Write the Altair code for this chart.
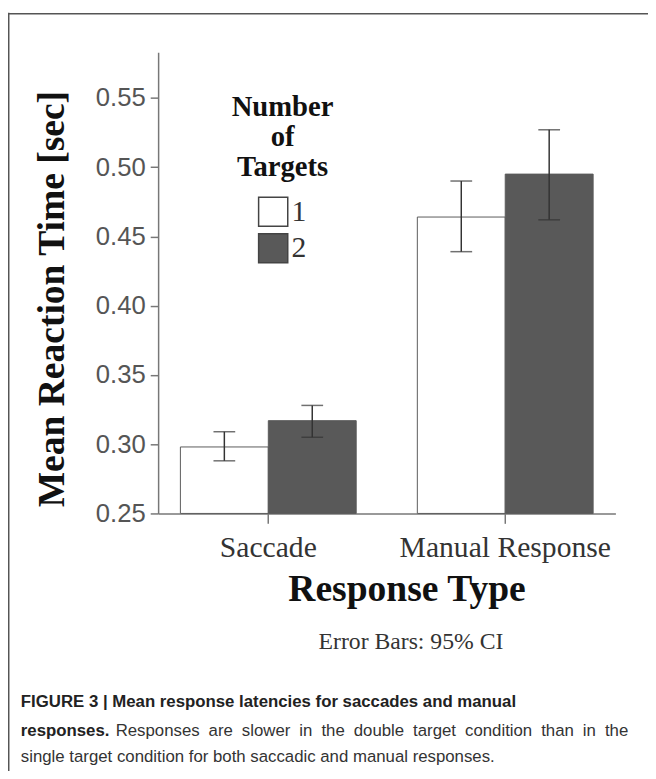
import altair as alt
import pandas as pd

# ---- data ----
categories = ["Saccade", "Manual Response"]
targets = ["1", "2"]
saccade_mean = [0.298, 0.317]
saccade_lo = [0.288, 0.305]
saccade_hi = [0.309, 0.328]
manual_mean = [0.464, 0.495]
manual_lo = [0.439, 0.462]
manual_hi = [0.490, 0.527]
y_ticks = [0.25, 0.30, 0.35, 0.40, 0.45, 0.50, 0.55]

caption_line1 = "FIGURE 3 | Mean response latencies for saccades and manual"
caption_line2_bold = "responses."
caption_line2 = "Responses are slower in the double target condition than in the"
caption_line3 = "single target condition for both saccadic and manual responses."

rows = []
for t, m, lo, hi in zip(targets, saccade_mean, saccade_lo, saccade_hi):
    rows.append({"type": "Saccade", "targets": t, "mean": m, "lo": lo, "hi": hi})
for t, m, lo, hi in zip(targets, manual_mean, manual_lo, manual_hi):
    rows.append({"type": "Manual Response", "targets": t, "mean": m, "lo": lo, "hi": hi})
df = pd.DataFrame(rows)

SERIF = "Liberation Serif"
SANS = "Liberation Sans"

x_enc = alt.X(
    "type:N",
    sort=categories,
    scale=alt.Scale(paddingInner=0.258, paddingOuter=0.094),
    axis=alt.Axis(
        title=None, labelAngle=0, labelFont=SERIF, labelFontSize=30,
        labelColor="#333", labelPadding=10, labelLimit=0,
        tickSize=10, tickColor="#777",
        tickWidth=1.5, domainColor="#777", domainWidth=1.5,
    ),
)
xo_enc = alt.XOffset("targets:N", sort=targets,
                     scale=alt.Scale(paddingInner=0, paddingOuter=0))
y_scale = alt.Scale(domain=[0.25, 0.583], nice=False, zero=False)
y_axis = alt.Axis(
    title=None, values=y_ticks, format=".2f", labelFont=SANS, labelFontSize=26,
    labelColor="#555", labelPadding=5, tickSize=8, tickColor="#777",
    tickWidth=1.5, domainColor="#777", domainWidth=1.5, grid=False,
)

bars = alt.Chart(df).mark_bar(stroke="#5a5a5a", strokeWidth=1).encode(
    x=x_enc,
    xOffset=xo_enc,
    y=alt.Y("mean:Q", scale=y_scale, axis=y_axis),
    y2=alt.datum(0.25),
    color=alt.Color(
        "targets:N",
        scale=alt.Scale(domain=targets, range=["#ffffff", "#595959"]),
        legend=alt.Legend(
            orient="none", legendX=74, legendY=42,
            title=["Number", "of", "Targets"],
            titleFont=SERIF, titleFontWeight="bold", titleFontSize=29,
            titleLineHeight=30, titleAlign="center", titleAnchor="middle",
            titleColor="#111", titlePadding=15,
            symbolType="square", symbolSize=870, symbolStrokeColor="#444",
            symbolStrokeWidth=1.5,
            labelFont=SERIF, labelFontSize=30, labelColor="#333",
            labelOffset=3, rowPadding=0, padding=0,
        ),
    ),
)

err = alt.Chart(df).mark_rule(color="#333", strokeWidth=1.5).encode(
    x=x_enc, xOffset=xo_enc,
    y=alt.Y("lo:Q", scale=y_scale, axis=y_axis), y2="hi:Q",
)
cap_lo = alt.Chart(df).mark_tick(orient="horizontal", size=22, thickness=1.5,
                                 color="#333").encode(
    x=x_enc, xOffset=xo_enc, y=alt.Y("lo:Q", scale=y_scale, axis=y_axis))
cap_hi = alt.Chart(df).mark_tick(orient="horizontal", size=22, thickness=1.5,
                                 color="#333").encode(
    x=x_enc, xOffset=xo_enc, y=alt.Y("hi:Q", scale=y_scale, axis=y_axis))


def label(text, x, y, font=SERIF, size=20, weight="normal", color="#333",
          align="left", baseline="alphabetic", angle=0):
    return alt.Chart(pd.DataFrame({"t": [text]})).mark_text(
        font=font, fontSize=size, fontWeight=weight, color=color,
        align=align, baseline=baseline, angle=angle,
    ).encode(text="t:N", x=alt.value(x), y=alt.value(y))


# Approximate advance widths (per 1000 em) of Liberation Sans, used only to
# spread the justified caption line across the column width.
ADV = {" ": 278, "R": 722, "e": 556, "s": 500, "p": 556, "o": 556, "n": 556,
       "a": 556, "r": 333, "l": 222, "w": 722, "i": 222, "t": 278, "h": 556,
       "d": 556, "u": 556, "b": 556, "g": 556, "c": 500}
CAP_SIZE = 17


def justified(text, x0, x1, y):
    words = text.split(" ")
    widths = [sum(ADV.get(ch, 556) for ch in w) * CAP_SIZE / 1000 for w in words]
    gap = (x1 - x0 - sum(widths)) / (len(words) - 1)
    layers = []
    x = x0
    for w, wd in zip(words, widths):
        layers.append(label(w, x, y, font=SANS, size=CAP_SIZE, color="#333"))
        x += wd + gap
    return layers


y_title = label("Mean Reaction Time [sec]", -106, 250, size=38, weight="bold",
                color="#111", align="center", baseline="middle", angle=270)
x_title = label("Response Type", 252, 556, size=38, weight="bold",
                color="#111", align="center")
note = label("Error Bars: 95% CI", 256, 604, size=24, color="#333", align="center")

cap1 = label(caption_line1, -139, 663, font=SANS, size=CAP_SIZE, weight="bold",
             color="#222")
cap2a = label(caption_line2_bold, -139, 692, font=SANS, size=CAP_SIZE,
              weight="bold", color="#222")
cap2b = justified(caption_line2, -43, 476, 692)
cap3 = label(caption_line3, -139, 719, font=SANS, size=CAP_SIZE, color="#333")

frame_top = alt.Chart(pd.DataFrame({"a": [0]})).mark_rule(
    color="#555", strokeWidth=1.5).encode(
    x=alt.value(-152), x2=alt.value(700), y=alt.value(-39))
frame_left = alt.Chart(pd.DataFrame({"a": [0]})).mark_rule(
    color="#555", strokeWidth=1.5).encode(
    x=alt.value(-151.25), y=alt.value(-40), y2=alt.value(900))

chart = alt.layer(
    bars, err, cap_lo, cap_hi, y_title, x_title, note,
    cap1, cap2a, *cap2b, cap3, frame_top, frame_left,
).properties(
    width=463, height=467,
    autosize=alt.AutoSizeParams(type="none"),
    padding={"left": 152, "top": 40, "right": 33, "bottom": 256},
).configure_view(stroke=None)

chart.save("out.html", embed_options={"renderer": "svg", "actions": False})
